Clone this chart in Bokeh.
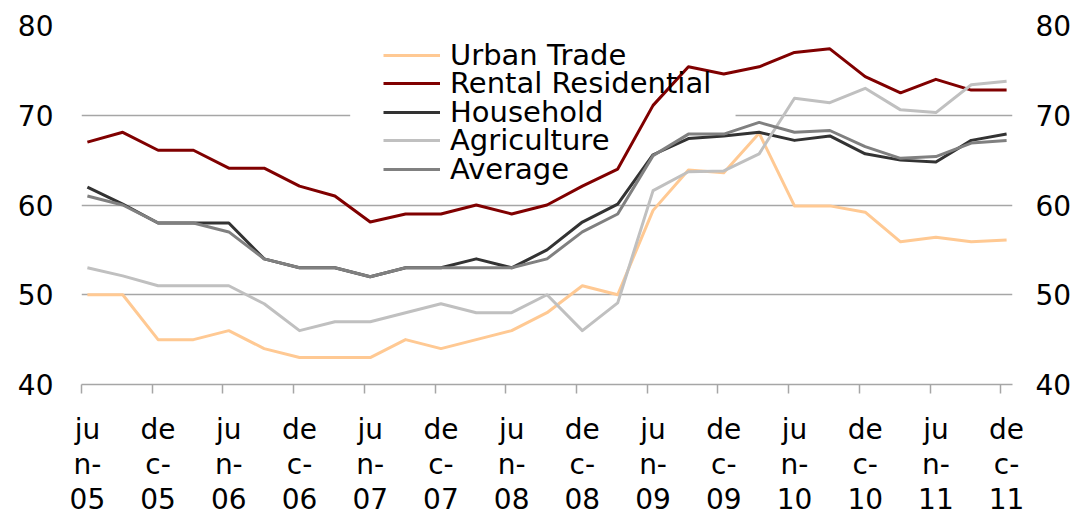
from bokeh.plotting import figure
from bokeh.models import Range1d, FixedTicker, LinearAxis, Legend, LegendItem
from bokeh.embed import file_html
from bokeh.resources import INLINE

# ---------------- data ----------------
quarters = ["2005-06", "2005-09", "2005-12", "2006-03", "2006-06", "2006-09", "2006-12",
            "2007-03", "2007-06", "2007-09", "2007-12", "2008-03", "2008-06", "2008-09",
            "2008-12", "2009-03", "2009-06", "2009-09", "2009-12", "2010-03", "2010-06",
            "2010-09", "2010-12", "2011-03", "2011-06", "2011-09", "2011-12"]

urban_trade = [50, 50, 45, 45, 46, 44, 43, 43, 43, 45, 44, 45, 46, 48, 51, 50,
               59.4, 63.9, 63.6, 68, 59.9, 59.9, 59.2, 55.9, 56.4, 55.9, 56.1]
rental_residential = [67, 68.1, 66.1, 66.1, 64.1, 64.1, 62.1, 61, 58.1, 59, 59, 60, 59, 60,
                      62.1, 64, 71.1, 75.4, 74.6, 75.4, 77, 77.4, 74.3, 72.5, 74, 72.8, 72.8]
household = [62, 60.1, 58, 58, 58, 54, 53, 53, 52, 53, 53, 54, 53, 55, 58.1, 60.1,
             65.6, 67.4, 67.7, 68.1, 67.2, 67.7, 65.7, 65, 64.8, 67.2, 67.9]
agriculture = [53, 52.1, 51, 51, 51, 49, 46, 47, 47, 48, 49, 48, 48, 50, 46, 49.1,
               61.6, 63.7, 63.8, 65.7, 71.9, 71.4, 73, 70.6, 70.3, 73.4, 73.8]
average = [61, 60, 58, 58, 57, 54, 53, 53, 52, 53, 53, 53, 53, 54, 57, 59,
           65.5, 67.9, 67.9, 69.2, 68.1, 68.3, 66.5, 65.2, 65.4, 66.9, 67.2]

tick_labels = ["jun-05", "dec-05", "jun-06", "dec-06", "jun-07", "dec-07", "jun-08",
               "dec-08", "jun-09", "dec-09", "jun-10", "dec-10", "jun-11", "dec-11"]
y_ticks = [40, 50, 60, 70, 80]

series_names = ["Urban Trade", "Rental Residential", "Household", "Agriculture", "Average"]
series_colors = ["#FFC993", "#800000", "#333333", "#C0C0C0", "#808080"]

# ---------------- helpers ----------------
def month_index(year, month):
    return (year - 2005) * 12 + month - 6

x = [month_index(int(q[:4]), int(q[5:])) for q in quarters]
mon = {"jun": 6, "dec": 12}
label_pos = [month_index(2000 + int(t[4:]), mon[t[:3]]) for t in tick_labels]
wrapped = {pos: t[:2] + "\n" + t[2:4] + "\n" + t[4:] for pos, t in zip(label_pos, tick_labels)}
slot_starts = [pos - 0.5 for pos in label_pos]

FONT = "DejaVu Sans"
GRID = "#A6A6A6"

p = figure(width=1080, height=519, output_backend="svg", toolbar_location=None,
           x_range=Range1d(-0.5, 78.5), y_range=Range1d(40, 80),
           min_border_left=81, min_border_right=68, min_border_top=25, min_border_bottom=134)
p.outline_line_color = None
p.background_fill_color = "white"
p.xgrid.visible = False

# left axis
p.yaxis.ticker = FixedTicker(ticks=y_ticks)
p.yaxis.axis_line_color = None
p.yaxis.major_tick_line_color = None
p.yaxis.minor_tick_line_color = None
p.yaxis.major_tick_out = 0
p.yaxis.major_label_text_font = FONT
p.yaxis.major_label_text_font_size = "28px"
p.yaxis.major_label_text_color = "black"
p.yaxis.major_label_standoff = 28

# right axis
ra = LinearAxis(ticker=FixedTicker(ticks=y_ticks), axis_line_color=None,
                major_tick_line_color=None, minor_tick_line_color=None,
                major_tick_out=0,
                major_label_text_font=FONT, major_label_text_font_size="28px",
                major_label_text_color="black", major_label_standoff=23)
p.add_layout(ra, "right")

p.ygrid.ticker = FixedTicker(ticks=y_ticks)
p.ygrid.grid_line_color = GRID
p.ygrid.grid_line_width = 1.5

# bottom axis
xa = p.xaxis[0]
xa.ticker = FixedTicker(ticks=label_pos, minor_ticks=slot_starts)
xa.major_label_overrides = wrapped
xa.axis_line_color = GRID
xa.axis_line_width = 1.5
xa.major_tick_line_color = None
xa.major_tick_out = 0
xa.major_tick_in = 0
xa.minor_tick_line_color = GRID
xa.minor_tick_line_width = 1.5
xa.minor_tick_out = 9
xa.minor_tick_in = 0
xa.major_label_text_font = FONT
xa.major_label_text_font_size = "28px"
xa.major_label_text_color = "black"
xa.major_label_standoff = 19
xa.major_label_text_line_height = 1.07

# white legend backdrop (hides gridline behind legend, lines drawn above)
p.quad(left=[22.3], right=[55.0], top=[79.2], bottom=[61.0],
       fill_color="white", line_color=None)

data = [urban_trade, rental_residential, household, agriculture, average]
renderers = []
for name, col, vals in zip(series_names, series_colors, data):
    r = p.line(x, vals, line_color=col, line_width=3, line_join="round")
    renderers.append(r)

centers = [54, 82.5, 111, 139.5, 168]  # px from top of the image
item_h = 33
for name, r, c in zip(series_names, renderers, centers):
    lg = Legend(items=[LegendItem(label=name, renderers=[r])],
                location=(302, 385 - c - item_h / 2 - 2),
                label_text_font=FONT, label_text_font_size="29px",
                label_text_color="black",
                background_fill_alpha=0, border_line_alpha=0,
                padding=0, margin=0, spacing=0,
                glyph_width=57, glyph_height=28, label_height=28,
                label_standoff=10)
    p.add_layout(lg, "center")

open("out.html", "w").write(file_html(p, INLINE))
